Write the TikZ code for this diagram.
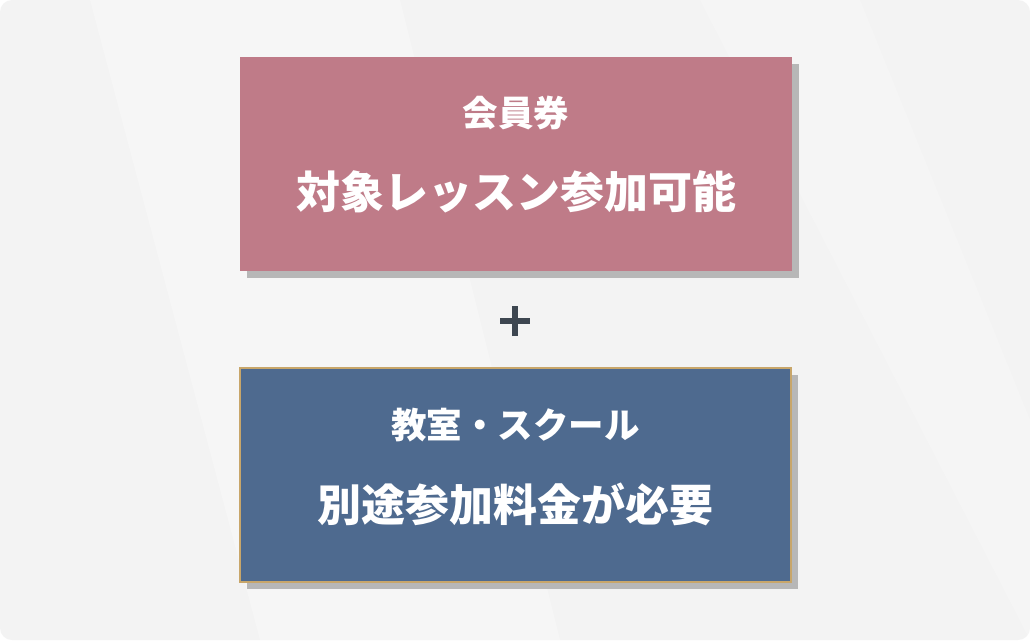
\documentclass[tikz,border=0pt]{standalone}
\usepackage{fontspec}
\usepackage{xcolor}
\usepackage{tikz}
\usetikzlibrary{shadows}

\newfontfamily\jpfont{Noto Sans CJK JP}

\definecolor{bgcol}{HTML}{F3F3F3}
\definecolor{rosecol}{HTML}{BF7B88}
\definecolor{bluecol}{HTML}{4E6A8F}
\definecolor{goldcol}{HTML}{C8A66A}
\definecolor{shadecol}{HTML}{B7B7B7}
\definecolor{pluscol}{HTML}{3D4650}

\tikzset{
	card/.style={minimum width=552pt, minimum height=214pt, inner sep=0pt,
		drop shadow={shadow xshift=7pt, shadow yshift=-7pt, fill=shadecol, opacity=1}},
	headtxt/.style={text=white, font=\jpfont\bfseries\fontsize{35.5pt}{35.5pt}\selectfont},
	bodytxt/.style={text=white, font=\jpfont\bfseries\fontsize{44pt}{44pt}\selectfont}
}

\begin{document}
\begin{tikzpicture}[x=1pt,y=-1pt]

\useasboundingbox (0,0) rectangle (1030,640);
\fill[white] (0,0) rectangle (1030,640);
\fill[bgcol, rounded corners=12pt] (0,0) rectangle (1030,640);

% faint streaks
\fill[white, opacity=0.25] (90,0)--(400,0)--(560,640)--(260,640)--cycle;
\fill[white, opacity=0.2] (700,0)--(860,0)--(1030,420)--(1030,640)--cycle;

\node[card, fill=rosecol] (member) at (516,164) {};
\node[headtxt] (memberhead) at (516,113) {会員券};
\node[bodytxt] (memberbody) at (516,192) {対象レッスン参加可能};

\coordinate (plus) at (515,321);
\draw[pluscol, line width=6pt] ([xshift=-15pt]plus) -- ([xshift=15pt]plus);
\draw[pluscol, line width=6pt] ([yshift=-15pt]plus) -- ([yshift=15pt]plus);

\node[card, fill=bluecol, draw=goldcol, line width=2pt, minimum width=551pt] (school) at (515.5,475) {};
\node[headtxt] (schoolhead) at (515.5,425) {教室・スクール};
\node[bodytxt] (schoolbody) at (515.5,504) {別途参加料金が必要};

\end{tikzpicture}
\end{document}
